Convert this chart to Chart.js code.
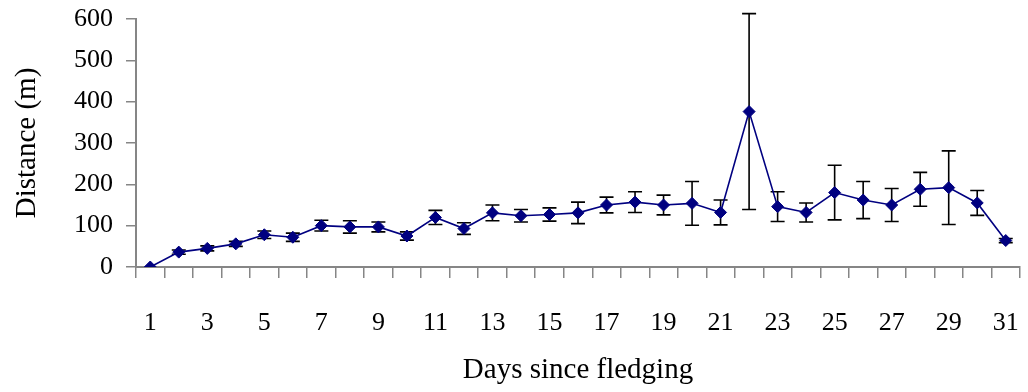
<!DOCTYPE html>
<html>
<head>
<meta charset="utf-8">
<script src="https://cdn.jsdelivr.net/npm/chart.js@4/dist/chart.umd.min.js"></script>
<style>
  html, body { margin: 0; padding: 0; background: #ffffff; }
  #wrap { width: 1028px; height: 392px; position: relative; }
</style>
</head>
<body>
<div id="wrap"><canvas id="chart" width="1028" height="392"></canvas></div>
<script>
// Days since fledging (category axis)
const days = [1,2,3,4,5,6,7,8,9,10,11,12,13,14,15,16,17,18,19,20,21,22,23,24,25,26,27,28,29,30,31];
// Mean distance travelled per day (m)
const meanDistance = [0,36,45,56,78,72,100,97,97,75,120,93,131,124,127,131,150,157,150,154,132,376,146,132,180,162,150,188,192,155,64];
// Half-length of the error bar for each day (m)
const errorHalf = [0,5,6,6,9,10,13,15,12,10,17,14,19,15,16,26,19,25,24,53,30,237,36,23,66,45,40,41,89,30,5];
// Value axis ticks
const yTicks = [0,100,200,300,400,500,600];

const AXIS_GREY = '#868686';
const NAVY = '#000080';
const SERIF = '"Liberation Serif", "Times New Roman", serif';

// Vertical error bars with caps, drawn beneath the line and markers
const errorBars = {
  id: 'errorBars',
  beforeDatasetsDraw(chart) {
    const ctx = chart.ctx;
    const x = chart.scales.x, y = chart.scales.y;
    ctx.save();
    ctx.strokeStyle = '#000000';
    ctx.lineWidth = 1.6;
    meanDistance.forEach((v, i) => {
      const e = errorHalf[i];
      if (!e) return;
      const px = x.getPixelForValue(i);
      const top = y.getPixelForValue(v + e);
      const bot = y.getPixelForValue(v - e);
      const cap = 7;
      ctx.beginPath();
      ctx.moveTo(px, top); ctx.lineTo(px, bot);
      ctx.moveTo(px - cap, top); ctx.lineTo(px + cap, top);
      ctx.moveTo(px - cap, bot); ctx.lineTo(px + cap, bot);
      ctx.stroke();
    });
    ctx.restore();
  }
};

// Tick marks are 10px long; the rest of the tick space is a blank gap before the labels.
// X ticks are stroked from the axis outward, Y ticks from the outer end toward the axis.
const xTickDash = [10, 200];
const yTickDash = [0, 13, 10, 200];

new Chart(document.getElementById('chart'), {
  type: 'line',
  data: {
    labels: days.map(String),
    datasets: [{
      data: meanDistance,
      borderColor: NAVY,
      borderWidth: 1.6,
      backgroundColor: NAVY,
      pointStyle: 'rectRot',
      pointRadius: 6,
      pointBorderWidth: 1,
      pointBorderColor: NAVY,
      pointBackgroundColor: NAVY,
      tension: 0,
      fill: false
    }]
  },
  options: {
    responsive: false,
    animation: false,
    layout: { padding: { top: 19, right: 8, bottom: 0, left: 0 } },
    plugins: { legend: { display: false }, tooltip: { enabled: false } },
    scales: {
      x: {
        type: 'category',
        offset: true,
        grid: { display: true, drawOnChartArea: false, drawTicks: true, tickLength: 41, tickBorderDash: xTickDash, color: AXIS_GREY, offset: true, lineWidth: 1.5 },
        border: { display: true, color: AXIS_GREY, width: 2 },
        ticks: {
          autoSkip: false,
          maxRotation: 0,
          padding: 0,
          color: '#000000',
          font: { family: SERIF, size: 26 },
          callback: (val, idx) => (idx % 2 === 0 ? days[idx] : '')
        },
        title: {
          display: true,
          text: 'Days since fledging',
          color: '#000000',
          font: { family: SERIF, size: 29 },
          padding: { top: 0, bottom: 4 }
        },
        afterFit: (s) => { s.height = 125; }
      },
      y: {
        min: 0,
        max: 600,
        afterBuildTicks: (s) => { s.ticks = yTicks.map(v => ({ value: v })); },
        grid: { display: true, drawOnChartArea: false, drawTicks: true, tickLength: 23, tickBorderDash: yTickDash, color: AXIS_GREY, lineWidth: 1.5 },
        border: { display: true, color: AXIS_GREY, width: 2 },
        ticks: {
          padding: 0,
          color: '#000000',
          font: { family: SERIF, size: 26 }
        },
        title: {
          display: true,
          text: 'Distance (m)',
          color: '#000000',
          font: { family: SERIF, size: 29 },
          padding: { top: 10, bottom: 0 }
        },
        afterFit: (s) => { s.width = 136; }
      }
    }
  },
  plugins: [errorBars]
});
</script>
</body>
</html>
